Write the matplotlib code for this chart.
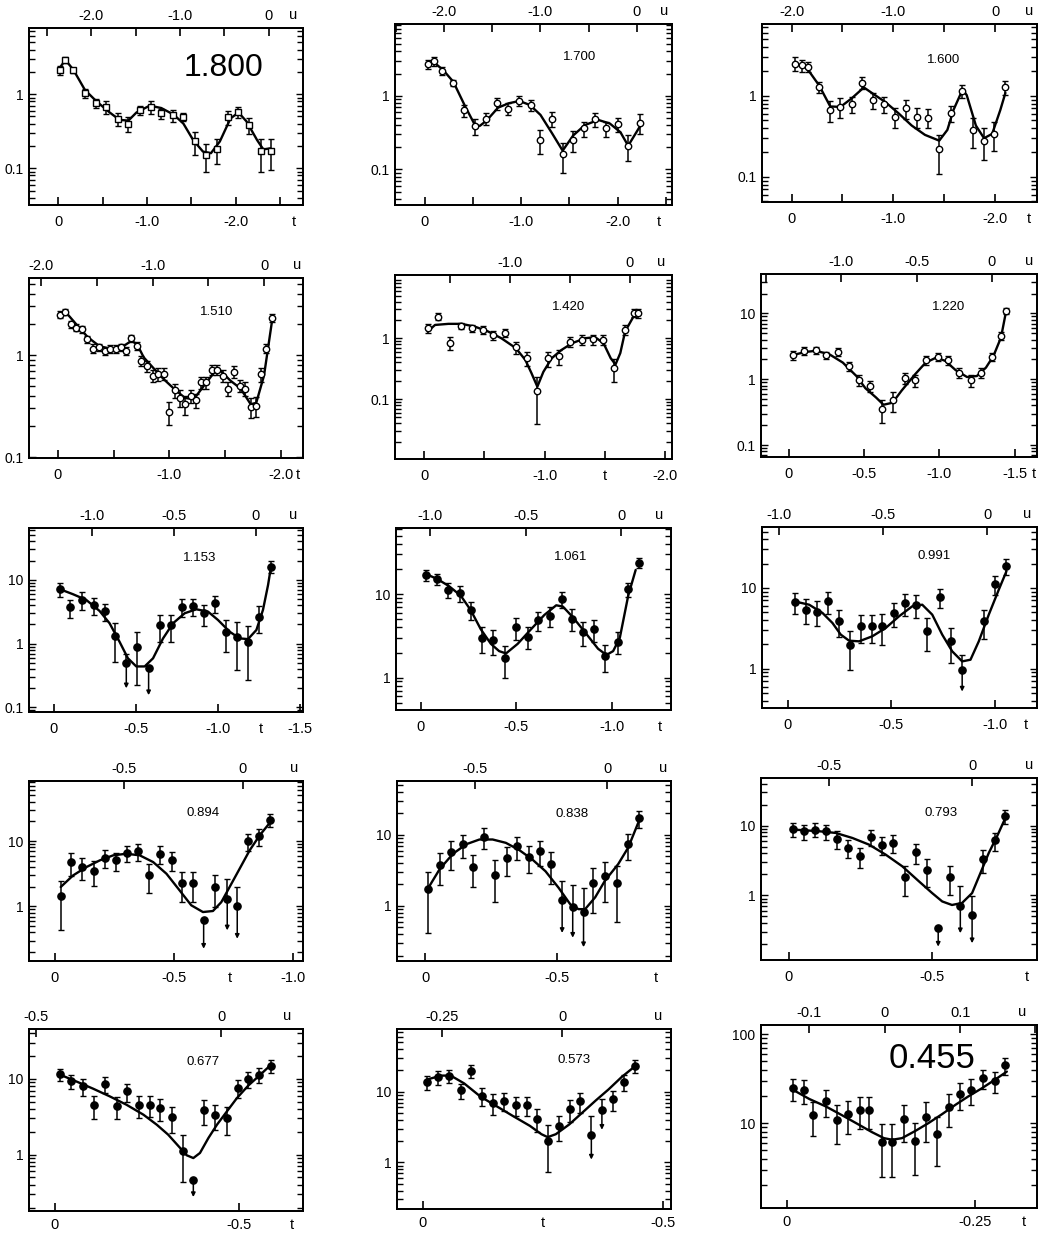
import matplotlib
matplotlib.use("Agg")
import matplotlib.pyplot as plt
from matplotlib.ticker import NullLocator, NullFormatter, LogLocator
import numpy as np

plt.rcParams['font.family'] = ['Liberation Sans', 'DejaVu Sans']

# energy of each panel (GeV), row by row
energies = ["1.800", "1.700", "1.600", "1.510", "1.420", "1.220",
            "1.153", "1.061", "0.991", "0.894", "0.838", "0.793",
            "0.677", "0.573", "0.455"]

# ---------------- 1.800
t_1800 = [-0.02, -0.08, -0.17, -0.30, -0.43, -0.54, -0.67, -0.79, -0.92, -1.04, -1.16,
          -1.29, -1.41, -1.54, -1.66, -1.79, -1.91, -2.03, -2.15, -2.28, -2.40]
y_1800 = [2.1, 2.9, 2.1, 1.03, 0.76, 0.68, 0.46, 0.40, 0.61, 0.67, 0.55,
          0.52, 0.49, 0.23, 0.15, 0.18, 0.49, 0.57, 0.38, 0.17, 0.17]
dy_1800 = [0.27, 0.30, 0.15, 0.15, 0.10, 0.14, 0.09, 0.09, 0.08, 0.13, 0.09,
           0.10, 0.06, 0.08, 0.06, 0.065, 0.11, 0.10, 0.09, 0.08, 0.075]
ul_1800, tip_1800 = [], []
fit_t_1800 = [-0.015, -0.08, -0.17, -0.30, -0.43, -0.58, -0.69, -0.79, -0.88, -1.03, -1.16, -1.30,
              -1.41, -1.52, -1.63, -1.72, -1.82, -1.94, -2.03, -2.12, -2.24, -2.31, -2.39]
fit_y_1800 = [2.25, 2.9, 2.13, 1.14, 0.80, 0.565, 0.45, 0.44, 0.565, 0.70, 0.65, 0.53,
              0.40, 0.24, 0.168, 0.16, 0.23, 0.47, 0.565, 0.43, 0.24, 0.18, 0.186]

# ---------------- 1.700
t_1700 = [-0.03, -0.09, -0.18, -0.295, -0.41, -0.52, -0.63, -0.75, -0.86, -0.98, -1.10,
          -1.20, -1.32, -1.43, -1.54, -1.65, -1.77, -1.88, -2.00, -2.11, -2.23]
y_1700 = [2.69, 2.96, 2.18, 1.50, 0.64, 0.39, 0.49, 0.79, 0.67, 0.86, 0.75,
          0.25, 0.49, 0.16, 0.255, 0.36, 0.48, 0.36, 0.41, 0.21, 0.43]
dy_1700 = [0.35, 0.40, 0.25, 0.15, 0.12, 0.10, 0.09, 0.15, 0.12, 0.14, 0.13,
           0.09, 0.11, 0.07, 0.08, 0.08, 0.10, 0.08, 0.09, 0.08, 0.13]
ul_1700, tip_1700 = [], []
fit_t_1700 = [-0.035, -0.10, -0.19, -0.295, -0.42, -0.52, -0.57, -0.64, -0.76, -0.87, -0.98,
              -1.09, -1.20, -1.32, -1.43, -1.54, -1.66, -1.80, -1.92, -2.03, -2.11, -2.23]
fit_y_1700 = [2.8, 2.8, 2.23, 1.55, 0.71, 0.40, 0.39, 0.46, 0.69, 0.79, 0.85,
              0.75, 0.55, 0.31, 0.18, 0.29, 0.40, 0.47, 0.42, 0.32, 0.21, 0.38]

# ---------------- 1.600
t_1600 = [-0.03, -0.10, -0.16, -0.27, -0.38, -0.48, -0.59, -0.69, -0.80, -0.905, -1.02,
          -1.12, -1.23, -1.34, -1.45, -1.57, -1.67, -1.78, -1.89, -1.99, -2.10]
y_1600 = [2.5, 2.39, 2.28, 1.27, 0.67, 0.73, 0.79, 1.45, 0.88, 0.79, 0.55,
          0.70, 0.55, 0.54, 0.22, 0.62, 1.15, 0.38, 0.28, 0.34, 1.27]
dy_1600 = [0.5, 0.4, 0.3, 0.2, 0.2, 0.2, 0.18, 0.25, 0.2, 0.18, 0.15,
           0.18, 0.15, 0.14, 0.11, 0.14, 0.22, 0.15, 0.12, 0.13, 0.25]
ul_1600, tip_1600 = [], []
fit_t_1600 = [-0.15, -0.27, -0.38, -0.48, -0.59, -0.71, -0.82, -0.92, -1.05, -1.18, -1.31,
              -1.45, -1.53, -1.59, -1.68, -1.72, -1.81, -1.89, -1.97, -2.05, -2.10]
fit_y_1600 = [2.2, 1.35, 0.74, 0.73, 0.93, 1.27, 1.02, 0.84, 0.61, 0.43, 0.33,
              0.28, 0.38, 0.67, 1.2, 1.02, 0.43, 0.30, 0.34, 0.67, 1.09]

# ---------------- 1.510
t_1510 = [-0.015, -0.066, -0.114, -0.165, -0.217, -0.265, -0.316, -0.367, -0.42, -0.466,
          -0.517, -0.565, -0.61, -0.66, -0.707, -0.75, -0.80, -0.85, -0.90, -0.95,
          -1.0, -1.05, -1.10, -1.145, -1.19, -1.24, -1.28, -1.33, -1.38, -1.43,
          -1.48, -1.53, -1.58, -1.63, -1.68, -1.73, -1.78, -1.825, -1.87, -1.92]
y_1510 = [2.5, 2.65, 2.0, 1.86, 1.8, 1.43, 1.16, 1.19, 1.10, 1.16,
          1.16, 1.19, 1.10, 1.46, 1.23, 0.88, 0.78, 0.63, 0.65, 0.66,
          0.275, 0.45, 0.38, 0.33, 0.40, 0.36, 0.54, 0.54, 0.72, 0.72,
          0.63, 0.47, 0.69, 0.50, 0.47, 0.31, 0.32, 0.65, 1.16, 2.33]
dy_1510 = [0.2, 0.2, 0.15, 0.15, 0.15, 0.12, 0.12, 0.1, 0.1, 0.1,
           0.1, 0.1, 0.1, 0.12, 0.1, 0.1, 0.09, 0.09, 0.09, 0.09,
           0.07, 0.07, 0.07, 0.07, 0.06, 0.06, 0.07, 0.07, 0.08, 0.08,
           0.08, 0.07, 0.09, 0.07, 0.07, 0.07, 0.07, 0.1, 0.12, 0.2]
ul_1510, tip_1510 = [], []
fit_t_1510 = [-0.015, -0.075, -0.165, -0.27, -0.37, -0.47, -0.57, -0.66, -0.71, -0.77, -0.86, -0.95,
              -1.04, -1.14, -1.22, -1.31, -1.40, -1.46, -1.55, -1.64, -1.73, -1.78, -1.85, -1.92]
fit_y_1510 = [2.6, 2.6, 2.0, 1.49, 1.23, 1.15, 1.19, 1.38, 1.28, 0.95, 0.74, 0.58,
              0.47, 0.38, 0.37, 0.50, 0.67, 0.70, 0.56, 0.47, 0.33, 0.34, 0.63, 2.09]

# ---------------- 1.420
t_1420 = [-0.028, -0.117, -0.214, -0.306, -0.394, -0.486, -0.575, -0.667, -0.76, -0.85, -0.94,
          -1.03, -1.12, -1.21, -1.31, -1.40, -1.49, -1.58, -1.67, -1.74, -1.78]
y_1420 = [1.46, 2.27, 0.83, 1.59, 1.46, 1.37, 1.13, 1.21, 0.71, 0.47, 0.134,
          0.47, 0.51, 0.88, 0.94, 0.96, 0.94, 0.32, 1.37, 2.63, 2.57]
dy_1420 = [0.25, 0.3, 0.2, 0.2, 0.2, 0.2, 0.18, 0.18, 0.15, 0.12, 0.095,
           0.13, 0.14, 0.15, 0.18, 0.18, 0.18, 0.13, 0.25, 0.4, 0.4]
ul_1420, tip_1420 = [], []
fit_t_1420 = [-0.028, -0.089, -0.2, -0.31, -0.42, -0.53, -0.64, -0.76, -0.84, -0.89, -0.94, -0.99,
              -1.06, -1.14, -1.23, -1.34, -1.42, -1.49, -1.55, -1.59, -1.63, -1.67, -1.74]
fit_y_1420 = [1.29, 1.65, 1.72, 1.72, 1.55, 1.29, 1.0, 0.69, 0.44, 0.27, 0.16, 0.28,
              0.47, 0.64, 0.83, 1.0, 1.04, 0.83, 0.47, 0.37, 0.57, 1.29, 2.27]

# ---------------- 1.220
t_1220 = [-0.031, -0.104, -0.18, -0.25, -0.325, -0.40, -0.47, -0.54, -0.62, -0.69, -0.77,
          -0.84, -0.91, -0.99, -1.06, -1.13, -1.21, -1.28, -1.35, -1.41, -1.44]
y_1220 = [2.34, 2.69, 2.79, 2.32, 2.63, 1.6, 0.97, 0.79, 0.35, 0.48, 1.06,
          0.97, 1.97, 2.18, 1.97, 1.26, 0.97, 1.26, 2.18, 4.55, 10.9]
dy_1220 = [0.35, 0.35, 0.35, 0.3, 0.35, 0.25, 0.18, 0.15, 0.13, 0.16, 0.2,
           0.2, 0.3, 0.3, 0.3, 0.2, 0.2, 0.2, 0.3, 0.6, 1.0]
ul_1220, tip_1220 = [], []
fit_t_1220 = [-0.031, -0.115, -0.18, -0.27, -0.36, -0.45, -0.51, -0.58, -0.63, -0.69, -0.75,
              -0.84, -0.91, -0.98, -1.04, -1.11, -1.185, -1.25, -1.31, -1.36, -1.41, -1.44]
fit_y_1220 = [2.34, 2.6, 2.7, 2.4, 1.79, 1.12, 0.73, 0.53, 0.41, 0.44, 0.67,
              1.19, 1.79, 2.13, 1.9, 1.37, 1.08, 1.12, 1.5, 2.26, 4.3, 9.7]

# ---------------- 1.153
t_1153 = [-0.039, -0.10, -0.173, -0.242, -0.309, -0.374, -0.441, -0.508, -0.577, -0.644,
          -0.711, -0.778, -0.848, -0.915, -0.98, -1.05, -1.116, -1.18, -1.25, -1.32]
y_1153 = [7.1, 3.7, 4.85, 4.05, 3.26, 1.32, 0.49, 0.875, 0.41, 1.96,
          1.96, 3.8, 3.9, 3.0, 4.3, 1.54, 1.29, 1.07, 2.65, 16.2]
dy_1153 = [1.7, 1.2, 1.5, 1.2, 1.0, 0.8, 0.21, 0.65, 0.0, 0.9,
           0.9, 1.2, 1.2, 1.1, 1.3, 0.8, 0.9, 0.8, 1.2, 3.5]
ul_1153, tip_1153 = [6, 8], [0.2, 0.156]
fit_t_1153 = [-0.039, -0.116, -0.197, -0.278, -0.339, -0.40, -0.451, -0.502, -0.553, -0.604, -0.665, -0.726,
              -0.797, -0.868, -0.939, -1.0, -1.071, -1.132, -1.183, -1.234, -1.274, -1.305, -1.32]
fit_y_1153 = [7.1, 5.96, 4.85, 3.26, 2.09, 1.07, 0.59, 0.44, 0.44, 0.59, 1.21, 2.09,
              3.0, 3.46, 3.18, 2.35, 1.54, 1.21, 1.18, 1.64, 3.38, 8.3, 14.4]

# ---------------- 1.061
t_1061 = [-0.025, -0.086, -0.144, -0.205, -0.261, -0.319, -0.38, -0.44, -0.498, -0.56,
          -0.612, -0.674, -0.739, -0.793, -0.849, -0.907, -0.967, -1.033, -1.086, -1.142]
y_1061 = [17.0, 15.0, 11.3, 10.3, 6.45, 3.0, 2.79, 1.7, 4.05, 3.1,
          4.9, 5.5, 8.75, 5.1, 3.5, 3.8, 1.82, 2.7, 11.4, 23.8]
dy_1061 = [2.5, 2.2, 2.3, 2.2, 1.5, 1.0, 0.9, 0.7, 1.2, 0.9,
           1.3, 1.5, 2.0, 1.5, 1.1, 1.1, 0.65, 0.8, 2.2, 3.5]
ul_1061, tip_1061 = [], []
fit_t_1061 = [-0.025, -0.086, -0.147, -0.209, -0.261, -0.314, -0.367, -0.41, -0.446, -0.507, -0.577,
              -0.647, -0.709, -0.744, -0.796, -0.858, -0.928, -0.972, -1.007, -1.042, -1.086, -1.125]
fit_y_1061 = [17.5, 15.2, 12.5, 9.6, 6.45, 3.8, 2.54, 2.08, 1.95, 2.54, 3.8,
              5.64, 7.36, 7.1, 5.3, 3.54, 2.22, 1.87, 2.08, 3.0, 9.6, 19.5]

# ---------------- 0.991
t_0991 = [-0.035, -0.088, -0.141, -0.195, -0.248, -0.30, -0.352, -0.405, -0.456, -0.512,
          -0.565, -0.619, -0.672, -0.731, -0.787, -0.84, -0.947, -1.0, -1.053]
y_0991 = [6.7, 5.4, 5.1, 6.8, 3.86, 1.95, 3.35, 3.35, 3.35, 4.9,
          6.5, 6.2, 2.96, 7.7, 2.18, 0.97, 3.86, 11.2, 18.6]
dy_0991 = [2.0, 1.8, 1.7, 2.0, 1.4, 1.0, 1.3, 1.3, 1.4, 1.6,
           2.0, 2.0, 1.3, 2.0, 1.0, 0.52, 1.5, 3.0, 4.0]
ul_0991, tip_0991 = [15], [0.52]
fit_t_0991 = [-0.035, -0.104, -0.168, -0.216, -0.256, -0.296, -0.344, -0.408, -0.472, -0.536, -0.60,
              -0.648, -0.696, -0.744, -0.792, -0.84, -0.88, -0.92, -0.968, -1.016, -1.053]
fit_y_0991 = [6.8, 6.2, 4.9, 3.68, 2.64, 2.22, 2.18, 2.52, 3.19, 4.45, 5.93,
              6.2, 4.67, 2.64, 1.64, 1.23, 1.29, 2.18, 4.67, 9.5, 16.1]

# ---------------- 0.894
t_0894 = [-0.025, -0.07, -0.116, -0.165, -0.211, -0.259, -0.303, -0.351, -0.396, -0.443,
          -0.492, -0.534, -0.58, -0.625, -0.673, -0.724, -0.766, -0.811, -0.857, -0.905]
y_0894 = [1.44, 4.77, 4.0, 3.47, 5.56, 5.06, 6.55, 7.0, 2.98, 6.4,
          5.17, 2.28, 2.28, 0.625, 1.98, 1.28, 1.01, 10.0, 11.8, 21.2]
dy_0894 = [1.0, 1.8, 1.5, 1.4, 1.7, 1.6, 1.8, 2.0, 1.4, 2.0,
           1.7, 1.1, 1.1, 0.0, 1.0, 1.37, 0.97, 3.0, 3.5, 5.0]
ul_0894, tip_0894 = [13, 15, 16], [0.225, 0.43, 0.32]
fit_t_0894 = [-0.025, -0.077, -0.133, -0.189, -0.245, -0.301, -0.357, -0.413, -0.469, -0.524,
              -0.573, -0.622, -0.664, -0.699, -0.734, -0.776, -0.818, -0.86, -0.905]
fit_y_0894 = [1.98, 2.98, 4.0, 5.06, 6.04, 6.4, 6.04, 4.77, 3.16, 1.76,
              1.04, 0.82, 0.85, 1.16, 1.98, 3.77, 7.2, 12.2, 19.5]

# ---------------- 0.838
t_0838 = [-0.0125, -0.056, -0.10, -0.144, -0.181, -0.225, -0.266, -0.309, -0.35, -0.394,
          -0.434, -0.475, -0.519, -0.559, -0.60, -0.6375, -0.681, -0.7275, -0.769, -0.809]
y_0838 = [1.71, 3.74, 5.67, 7.36, 3.57, 9.26, 2.75, 4.64, 6.92, 4.86,
          5.93, 3.86, 1.22, 0.97, 0.81, 2.09, 2.63, 2.09, 7.36, 17.1]
dy_0838 = [1.3, 1.8, 2.5, 2.6, 1.7, 3.0, 1.6, 2.0, 2.5, 2.0,
           2.3, 1.8, 1.04, 0.97, 0.98, 1.3, 1.5, 1.5, 3.0, 4.5]
ul_0838, tip_0838 = [12, 13, 14], [0.417, 0.357, 0.263]
fit_t_0838 = [-0.0125, -0.056, -0.106, -0.156, -0.206, -0.256, -0.306, -0.356, -0.406, -0.456,
              -0.506, -0.55, -0.581, -0.606, -0.644, -0.681, -0.731, -0.769, -0.809]
fit_y_0838 = [1.79, 3.31, 5.41, 7.36, 8.58, 8.58, 7.7, 6.12, 4.5, 3.07,
              1.79, 1.05, 0.9, 0.9, 1.32, 2.26, 3.86, 6.6, 15.4]

# ---------------- 0.793
t_0793 = [-0.016, -0.054, -0.093, -0.132, -0.17, -0.208, -0.248, -0.286, -0.326, -0.363,
          -0.405, -0.444, -0.483, -0.521, -0.561, -0.598, -0.639, -0.677, -0.718, -0.755]
y_0793 = [8.96, 8.3, 8.77, 8.3, 6.44, 4.78, 3.63, 6.88, 5.34, 5.64,
          1.83, 4.14, 2.34, 0.34, 1.83, 0.695, 0.53, 3.32, 6.15, 13.6]
dy_0793 = [2.0, 2.0, 2.0, 2.0, 1.8, 1.4, 1.2, 1.8, 1.5, 1.6,
           0.85, 1.3, 1.0, 0.0, 0.8, 0.655, 0.44, 1.2, 1.8, 3.0]
ul_0793, tip_0793 = [13, 15, 16], [0.185, 0.288, 0.207]
fit_t_0793 = [-0.016, -0.106, -0.164, -0.222, -0.28, -0.338, -0.396, -0.454, -0.5, -0.535,
              -0.569, -0.604, -0.639, -0.668, -0.697, -0.726, -0.755]
fit_y_0793 = [8.77, 8.3, 7.85, 6.65, 5.34, 3.84, 2.61, 1.59, 1.08, 0.82,
              0.73, 0.78, 1.08, 2.09, 4.05, 7.03, 12.9]

# ---------------- 0.677
t_0677 = [-0.015, -0.045, -0.075, -0.107, -0.137, -0.167, -0.196, -0.227, -0.258, -0.286,
          -0.316, -0.346, -0.375, -0.405, -0.434, -0.466, -0.495, -0.524, -0.554, -0.585]
y_0677 = [11.5, 9.4, 7.93, 4.46, 8.5, 4.32, 6.81, 4.46, 4.55, 4.11,
          3.1, 1.13, 0.455, 3.83, 3.3, 3.04, 7.54, 10.0, 11.3, 15.0]
dy_0677 = [2.0, 2.0, 2.0, 1.5, 2.0, 1.4, 1.8, 1.4, 1.4, 1.3,
           1.2, 0.7, 0.0, 1.4, 1.2, 1.2, 2.0, 2.5, 2.5, 3.0]
ul_0677, tip_0677 = [12], [0.275]
fit_t_0677 = [-0.015, -0.059, -0.104, -0.149, -0.194, -0.24, -0.276, -0.307, -0.335, -0.357,
              -0.375, -0.393, -0.416, -0.439, -0.466, -0.493, -0.524, -0.556, -0.585]
fit_y_0677 = [11.3, 9.2, 7.4, 5.86, 4.55, 3.36, 2.48, 1.83, 1.29, 0.98,
              0.90, 1.05, 1.66, 2.48, 3.72, 5.57, 8.17, 11.3, 15.3]

# ---------------- 0.573
t_0573 = [-0.009, -0.032, -0.055, -0.079, -0.101, -0.123, -0.146, -0.169, -0.193, -0.216,
          -0.238, -0.26, -0.283, -0.306, -0.327, -0.351, -0.373, -0.397, -0.42, -0.443]
y_0573 = [13.7, 16.1, 16.6, 10.5, 19.5, 8.8, 6.94, 7.5, 6.5, 6.5,
          4.18, 2.04, 3.29, 5.74, 7.28, 2.45, 5.56, 7.88, 13.7, 23.2]
dy_0573 = [3.0, 3.5, 3.5, 2.5, 4.0, 2.5, 2.2, 2.2, 2.0, 2.0,
           1.5, 1.3, 1.3, 2.0, 2.3, 2.1, 2.3, 2.5, 3.5, 5.0]
ul_0573, tip_0573 = [15, 16], [1.1, 2.9]
fit_t_0573 = [-0.009, -0.038, -0.058, -0.086, -0.12, -0.154, -0.188, -0.223, -0.247, -0.26,
              -0.277, -0.305, -0.332, -0.36, -0.387, -0.414, -0.443]
fit_y_0573 = [14.9, 16.9, 16.9, 13.1, 8.53, 6.21, 4.52, 3.29, 2.51, 2.28,
              2.51, 3.45, 5.05, 7.5, 10.8, 16.1, 23.2]

# ---------------- 0.455
t_0455 = [-0.0084, -0.023, -0.035, -0.052, -0.067, -0.082, -0.097, -0.109, -0.126, -0.14,
          -0.155, -0.17, -0.185, -0.20, -0.215, -0.23, -0.245, -0.26, -0.276, -0.29]
y_0455 = [24.7, 23.3, 12.2, 17.8, 10.9, 12.6, 14.1, 14.1, 6.2, 6.2,
          11.2, 6.3, 11.6, 7.5, 15.0, 21.2, 23.7, 32.0, 30.0, 44.5]
dy_0455 = [7, 7, 5, 6, 5, 5, 5.5, 5.5, 3.7, 3.7,
           5, 3.7, 5.5, 4.2, 6, 7, 7.5, 8, 8, 10]
ul_0455, tip_0455 = [], []
fit_t_0455 = [-0.0084, -0.03, -0.052, -0.074, -0.096, -0.113, -0.129, -0.14, -0.153,
              -0.171, -0.188, -0.206, -0.224, -0.241, -0.259, -0.276, -0.292]
fit_y_0455 = [23.7, 18.7, 15.4, 12.2, 9.58, 7.93, 6.78, 6.5, 6.78,
              8.2, 10.0, 12.6, 16.1, 20.0, 24.7, 30.7, 38.0]

# labelled ticks: bottom (t), top (u) and left (y)
t_labels = [[0, -1.0, -2.0]] * 5 + [[0, -0.5, -1.0, -1.5]] * 2 + [[0, -0.5, -1.0]] * 3 \
    + [[0, -0.5]] * 4 + [[0, -0.25]]
u_labels = [[-2.0, -1.0, 0]] * 4 + [[-1.0, 0]] + [[-1.0, -0.5, 0]] * 4 + [[-0.5, 0]] * 4 \
    + [[-0.25, 0], [-0.1, 0, 0.1]]
y_labels = [[0.1, 1]] * 5 + [[0.1, 1, 10]] * 2 + [[1, 10]] * 7 + [[10, 100]]

# ---------------- axes settings (not data)
# panel frames in pixels: left, top, right, bottom
boxes = [(29, 28, 303, 205), (395, 24, 672, 205), (762, 24, 1037, 202),
         (29, 278, 303, 458), (395, 275, 672, 459), (761, 274, 1037, 457),
         (29, 528, 303, 712), (396, 528, 671, 710), (762, 527, 1037, 708),
         (29, 781, 303, 961), (397, 781, 671, 961), (761, 778, 1037, 960),
         (29, 1029, 303, 1211), (397, 1029, 671, 1209), (761, 1025, 1037, 1208)]
xlims = [(0.33, -2.757), (0.31, -2.565), (0.29, -2.41), (0.26, -2.20), (0.244, -2.06),
         (0.183, -1.649), (0.152, -1.518), (0.13, -1.31), (0.123, -1.2), (0.108, -1.042),
         (0.106, -0.931), (0.096, -0.865), (0.07, -0.672), (0.054, -0.517), (0.034, -0.332)]
ylims = [(0.032, 7.8), (0.033, 9.4), (0.049, 7.7), (0.098, 5.7), (0.0104, 10.9),
         (0.066, 39.6), (0.085, 65), (0.41, 62), (0.325, 57), (0.146, 83),
         (0.168, 57), (0.119, 48), (0.18, 45.5), (0.22, 77), (1.11, 127)]
# u = -t - shift
u_shift = [2.37, 2.20, 2.0, 1.85, 1.71, 1.35, 1.23, 1.05, 0.96, 0.79, 0.69, 0.64, 0.45, 0.29, 0.13]
t_step = [0.5] * 14 + [0.25]
u_step = [0.5] * 13 + [0.25, 0.1]
t_letter = [-2.65, -2.43, -2.33, -2.155, -1.5, -1.625, -1.258, -1.25, -1.144, -0.734,
            -0.875, -0.83, -0.642, -0.25, -0.314]
u_letter = [-2.65, -2.485, -2.33, -2.15, -1.97, -1.594, -1.457, -1.25, -1.152, -1.003,
            -0.90, -0.836, -0.628, -0.49, -0.312]
name_pos = [(0.71, 0.774), (0.668, 0.818), (0.662, 0.80), (0.686, 0.81), (0.625, 0.826),
            (0.681, 0.82), (0.624, 0.837), (0.636, 0.84), (0.625, 0.84), (0.635, 0.82),
            (0.64, 0.815), (0.652, 0.81), (0.635, 0.82), (0.646, 0.83), (0.62, 0.815)]
name_size = [23] + [9.5] * 13 + [25]
bottom_pad = [7.5] * 12 + [5.0] * 3

panels = []
for e in energies:
    key = e.replace(".", "")
    g = globals()
    panels.append(dict(name=e, t=g["t_" + key], y=g["y_" + key], dy=g["dy_" + key],
                       ul=g["ul_" + key], tip=g["tip_" + key],
                       fit_t=g["fit_t_" + key], fit_y=g["fit_y_" + key]))

W, H = 1039, 1234
fig = plt.figure(figsize=(W / 100, H / 100), dpi=100)


def tick_text(v):
    if abs(v) < 1e-9:
        return "0"
    s = f"{v:.2f}"
    return s[:-1] if s.endswith("0") else s


def labelled(ticks, labels):
    out = []
    for v in ticks:
        out.append(tick_text(v) if any(abs(v - L) < 1e-6 for L in labels) else "")
    return out


for i, p in enumerate(panels):
    l, tp, r, b = boxes[i]
    ax = fig.add_axes([l / W, 1 - b / H, (r - l) / W, (b - tp) / H])
    ax.set_yscale('log')
    x0, x1 = xlims[i]
    ax.set_xlim(x0, x1)
    ax.set_ylim(*ylims[i])

    ax.plot(p['fit_t'], p['fit_y'], color='k', lw=1.7, zorder=2,
            solid_joinstyle='round', solid_capstyle='round')

    t = np.array(p['t'])
    y = np.array(p['y'])
    dy = np.array(p['dy'])
    ul = np.zeros(len(t), bool)
    ul[p['ul']] = True

    if i == 0:
        mk, mfc, ms = 's', 'white', 4.2
    elif i < 6:
        mk, mfc, ms = 'o', 'white', 4.6
    else:
        mk, mfc, ms = 'o', 'black', 5.2
    style = dict(fmt=mk, ms=ms, mfc=mfc, mec='k', mew=1.0, ecolor='k',
                 elinewidth=1.1, capsize=2.2, capthick=1.1, zorder=3)
    ax.errorbar(t[~ul], y[~ul], yerr=dy[~ul], **style)
    if ul.any():
        ax.errorbar(t[ul], y[ul], yerr=[np.zeros(ul.sum()), dy[ul]], **style)
        for tt, yy, tip in zip(t[ul], y[ul], p['tip']):
            ax.annotate('', xy=(tt, tip), xytext=(tt, yy),
                        arrowprops=dict(arrowstyle='-|>', color='k', lw=1.1,
                                        mutation_scale=6, shrinkA=0, shrinkB=0),
                        zorder=3)

    # left / right log axis
    ax.set_yticks(y_labels[i], [f"{v:g}" for v in y_labels[i]])
    ax.yaxis.set_minor_locator(LogLocator(base=10, subs=np.arange(2, 10)))
    ax.yaxis.set_minor_formatter(NullFormatter())
    ax.tick_params(axis='y', which='both', direction='in', left=True, right=True,
                   labelsize=10, pad=4, width=1)
    ax.tick_params(axis='y', which='major', length=5)
    ax.tick_params(axis='y', which='minor', length=4)

    # bottom t axis
    step = t_step[i]
    n = int(np.floor(-x1 / step + 1e-9))
    tt = -step * np.arange(n + 1)
    ax.set_xticks(tt, labelled(tt, t_labels[i]))
    ax.xaxis.set_minor_locator(NullLocator())
    ax.tick_params(axis='x', which='major', direction='in', bottom=True, top=False,
                   length=6, width=1.2, labelsize=10.5, pad=bottom_pad[i])

    # top u axis
    ax2 = ax.twiny()
    u0, u1 = -x0 - u_shift[i], -x1 - u_shift[i]
    ax2.set_xlim(u0, u1)
    us = u_step[i]
    uu = us * np.arange(np.ceil(u0 / us - 1e-9), np.floor(u1 / us + 1e-9) + 1)
    ax2.set_xticks(uu, labelled(uu, u_labels[i]))
    ax2.xaxis.set_minor_locator(NullLocator())
    ax2.tick_params(axis='x', which='major', direction='in', top=True, bottom=False,
                    length=6, width=1.2, labelsize=10.5, pad=3.5)

    for a in (ax, ax2):
        for s in a.spines.values():
            s.set_linewidth(1.3)

    ax.annotate('t', xy=(t_letter[i], 0), xycoords=('data', 'axes fraction'),
                xytext=(0, -(bottom_pad[i] + 5)), textcoords='offset points',
                ha='center', va='center', fontsize=10.5)
    ax.annotate('u', xy=(u_letter[i], 1), xycoords=('data', 'axes fraction'),
                xytext=(0, 9.5), textcoords='offset points',
                ha='center', va='center', fontsize=10.5)

    ax.text(name_pos[i][0], name_pos[i][1], p['name'], transform=ax.transAxes,
            ha='center', va='center', fontsize=name_size[i])

fig.savefig('out.png', dpi=100)
